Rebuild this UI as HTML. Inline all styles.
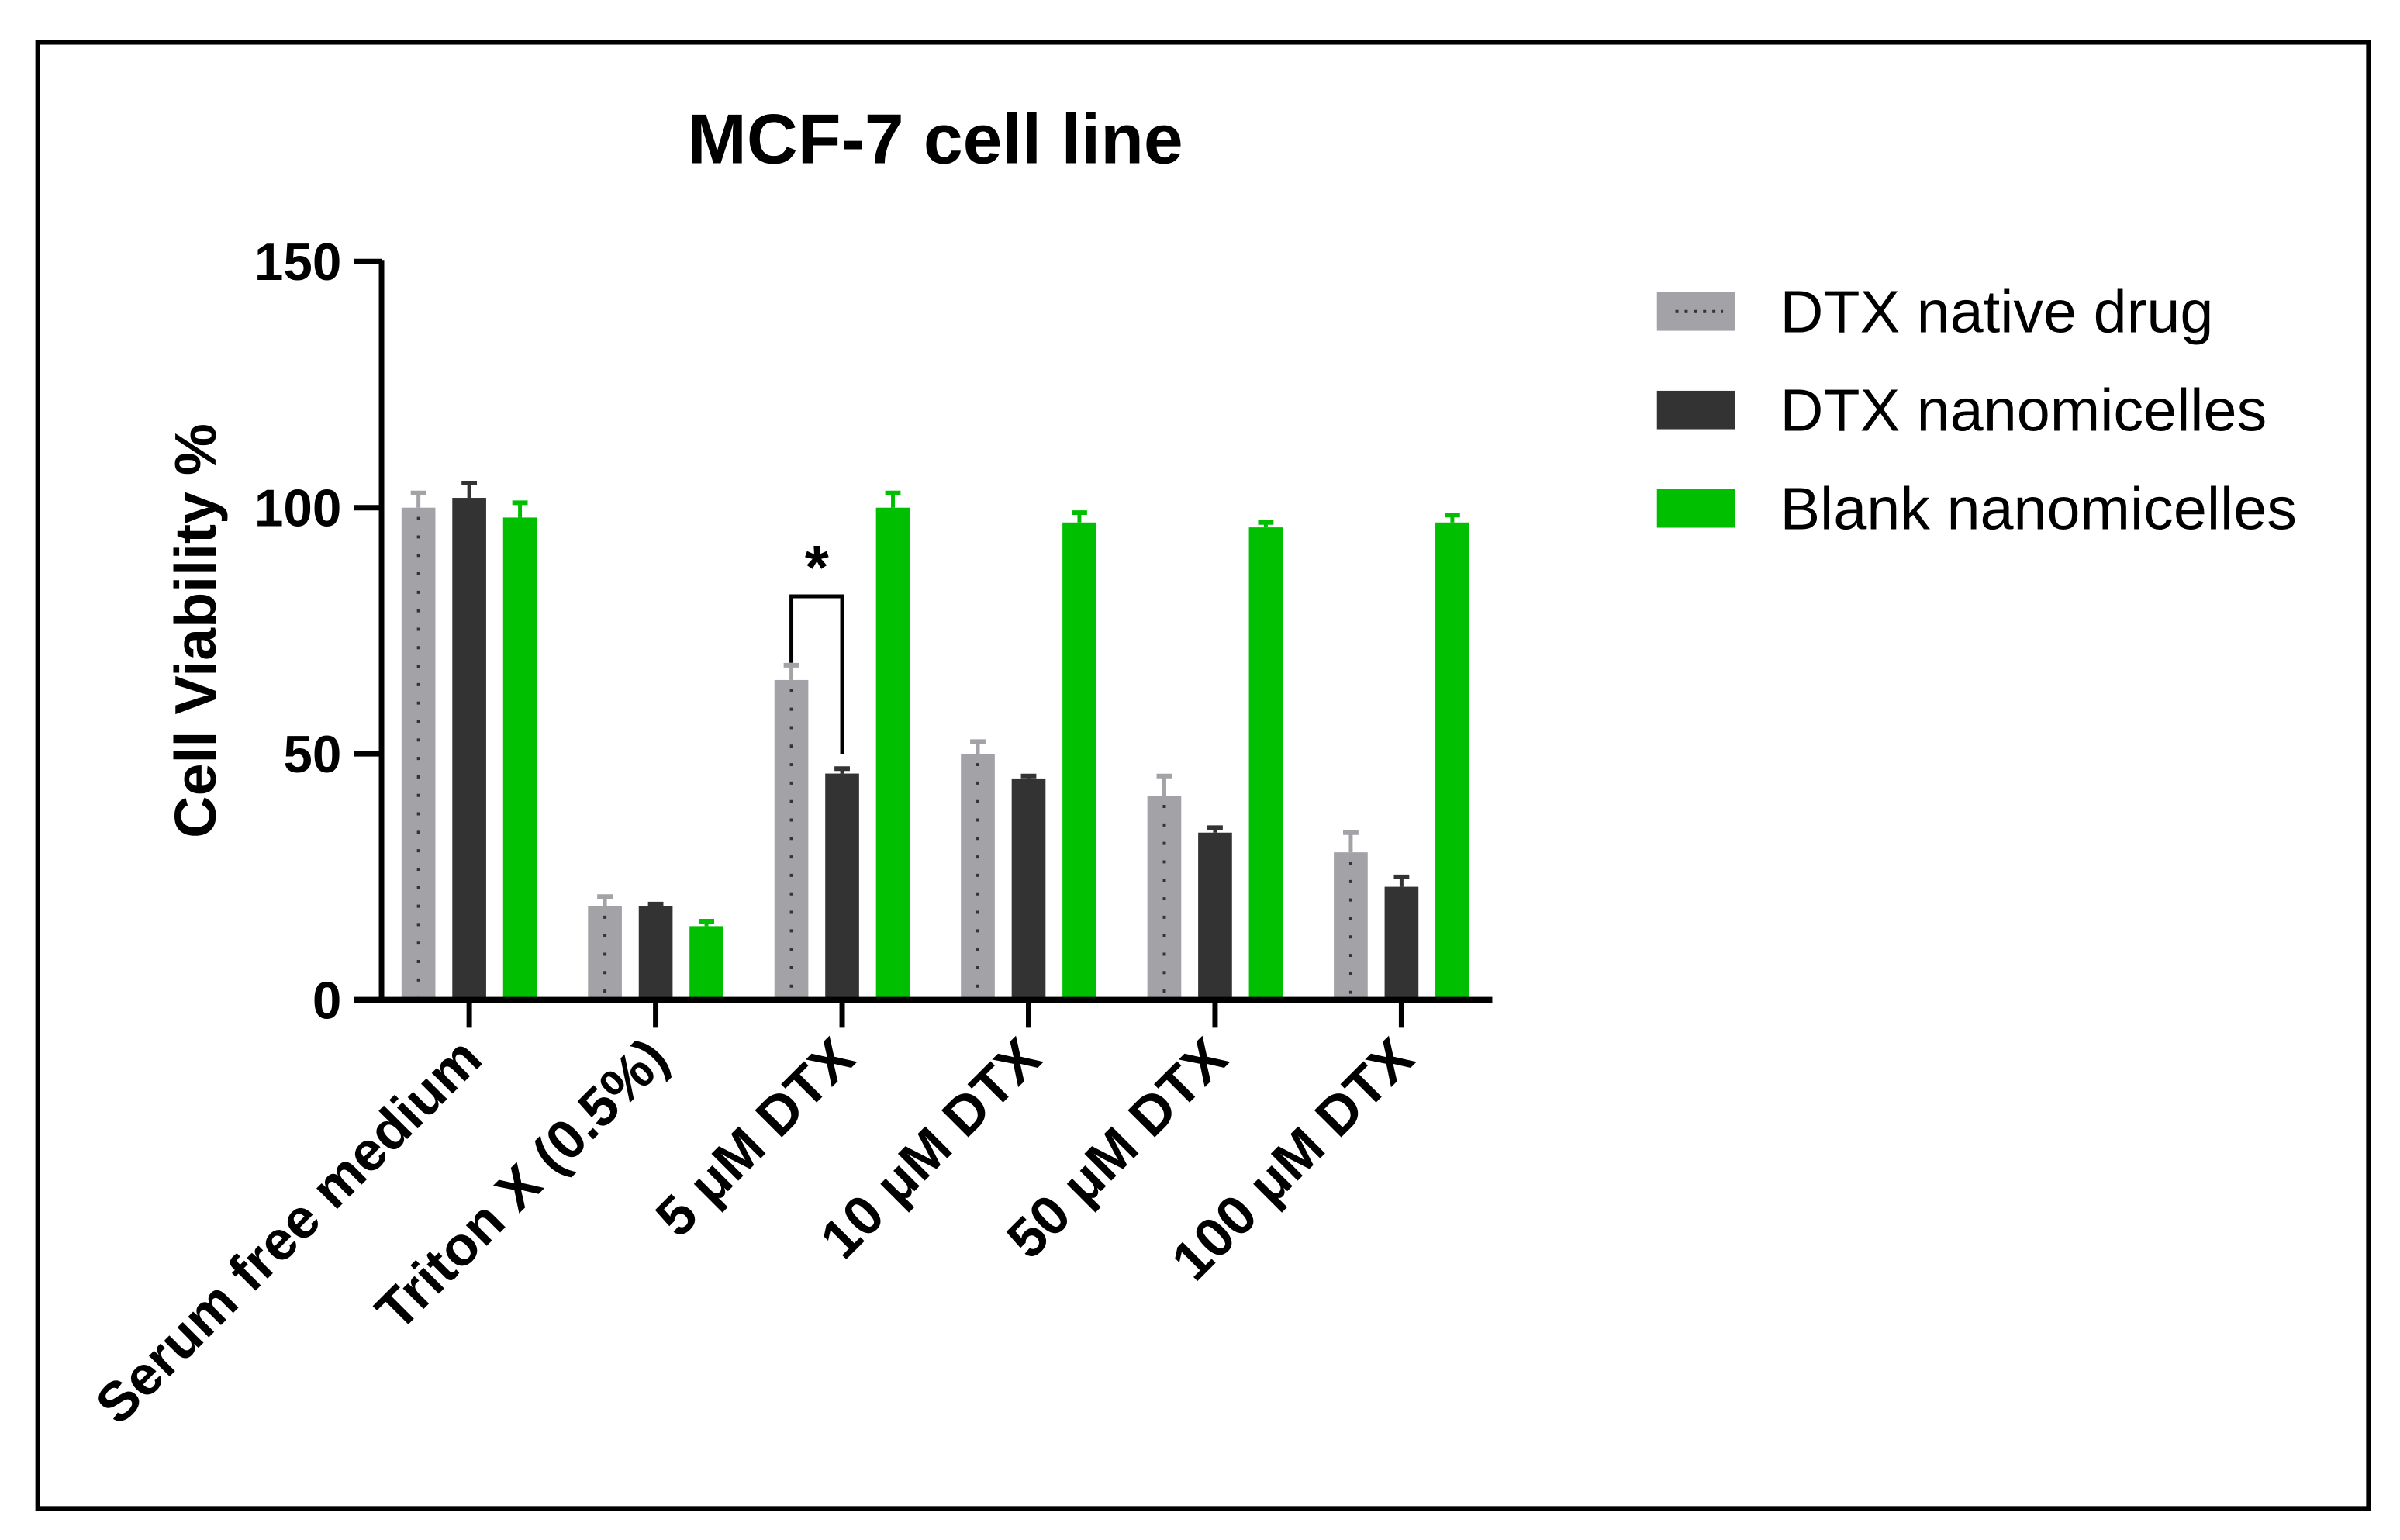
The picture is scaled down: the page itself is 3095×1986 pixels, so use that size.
<!DOCTYPE html>
<html><head><meta charset="utf-8"><style>
html,body{margin:0;padding:0;background:#fff;}
svg{display:block;}
text{font-family:"Liberation Sans",Arial,sans-serif;}
</style></head><body>
<svg id="chart" width="3095" height="1986" viewBox="0 0 1560 1001" preserveAspectRatio="none" xmlns="http://www.w3.org/2000/svg">
<rect x="24.5" y="27.5" width="1515" height="953" fill="none" stroke="#000" stroke-width="3"/>
<text x="608" y="106" font-size="46" font-weight="bold" text-anchor="middle">MCF-7 cell line</text>
<text transform="translate(140,410) rotate(-90)" font-size="38" font-weight="bold" text-anchor="middle">Cell Viability %</text>
<g id="plot"></g>
<g>
<rect x="1077" y="190" width="51" height="25" fill="#a2a2a7"/>
<line x1="1089" y1="202.5" x2="1120" y2="202.5" stroke="#333" stroke-width="2" stroke-dasharray="2 4"/>
<text x="1157" y="216" font-size="39">DTX native drug</text>
<rect x="1077" y="254" width="51" height="25" fill="#333333"/>
<text x="1157" y="280" font-size="39">DTX nanomicelles</text>
<rect x="1077" y="318" width="51" height="25" fill="#00bf00"/>
<text x="1157" y="344" font-size="39">Blank nanomicelles</text>
</g>
</svg>
<script>
const categories = ["Serum free medium","Triton X (0.5%)","5 μM DTX","10 μM DTX","50 μM DTX","100 μM DTX"];
const nativeVals = [100,19,65,50,41.5,30];
const nativeErr = [3,2,3,2.5,4,4];
const nanoVals = [102,19,46,45,34,23];
const nanoErr = [3,0.5,1,0.5,1,2];
const blankVals = [98,15,100,97,96,97];
const blankErr = [3,1,3,2,1,1.5];
const yTicks = [0,50,100,150];

const NS="http://www.w3.org/2000/svg";
const g=document.getElementById('plot');
const y0=650, yTop=170, yMax=150;
function yScale(v){return y0-(v/yMax)*(y0-yTop);}
function xCenter(i){return 305+i*121.2;}
function mk(tag,attrs){const e=document.createElementNS(NS,tag);for(const k in attrs)e.setAttribute(k,attrs[k]);g.appendChild(e);return e;}

const series=[
 {vals:nativeVals,err:nativeErr,color:"#a2a2a7",off:-33,name:"native"},
 {vals:nanoVals,err:nanoErr,color:"#333333",off:0,name:"nano"},
 {vals:blankVals,err:blankErr,color:"#00bf00",off:33,name:"blank"}];
const bw=22;
series.forEach(s=>{
 s.vals.forEach((v,i)=>{
  const cx=xCenter(i)+s.off;
  const top=yScale(v), et=yScale(v+s.err[i]);
  const eb=mk('line',{x1:cx,y1:top,x2:cx,y2:et,stroke:s.color,'stroke-width':2.5});
  
  
  const cap=mk('line',{x1:cx-5,y1:et,x2:cx+5,y2:et,stroke:s.color,'stroke-width':3});
  
  
  const r=mk('rect',{x:cx-bw/2,y:top,width:bw,height:y0-top,fill:s.color});
  
  
  if(s.name==="native"){
   const d=mk('line',{x1:cx,y1:top+6,x2:cx,y2:y0,stroke:'#333','stroke-width':2,'stroke-dasharray':'2 10'});
   
   
  }
 });
});
const ya=mk('line',{x1:248,y1:yTop-1,x2:248,y2:y0,stroke:'#000','stroke-width':3.5});


const xa=mk('line',{x1:230,y1:y0,x2:970,y2:y0,stroke:'#000','stroke-width':4});


yTicks.forEach(t=>{
 const y=yScale(t);
 const tk=mk('line',{x1:230,y1:y,x2:248,y2:y,stroke:'#000','stroke-width':3.5});
 
 
 const tl=mk('text',{x:222,y:y+12,'font-size':34,'font-weight':'bold','text-anchor':'end'});
 tl.textContent=t;
 
 
});
categories.forEach((c,i)=>{
 const x=xCenter(i);
 const tk=mk('line',{x1:x,y1:y0,x2:x,y2:668,stroke:'#000','stroke-width':3.5});
 
 
 const tl=mk('text',{transform:'translate('+(x+10)+',690) rotate(-45)','font-size':36,'font-weight':'bold','text-anchor':'end'});
 tl.textContent=c;
 
 
});
const bx1=xCenter(2)-33, bx2=xCenter(2);
const by=yScale(82);
const br=mk('polyline',{points:bx1+','+yScale(68.5)+' '+bx1+','+by+' '+bx2+','+by+' '+bx2+','+yScale(50),fill:'none',stroke:'#000','stroke-width':2.5});


const st=mk('text',{x:(bx1+bx2)/2,y:by-5,'font-size':40,'font-weight':'bold','text-anchor':'middle'});
st.textContent='*';


</script>
</body></html>
